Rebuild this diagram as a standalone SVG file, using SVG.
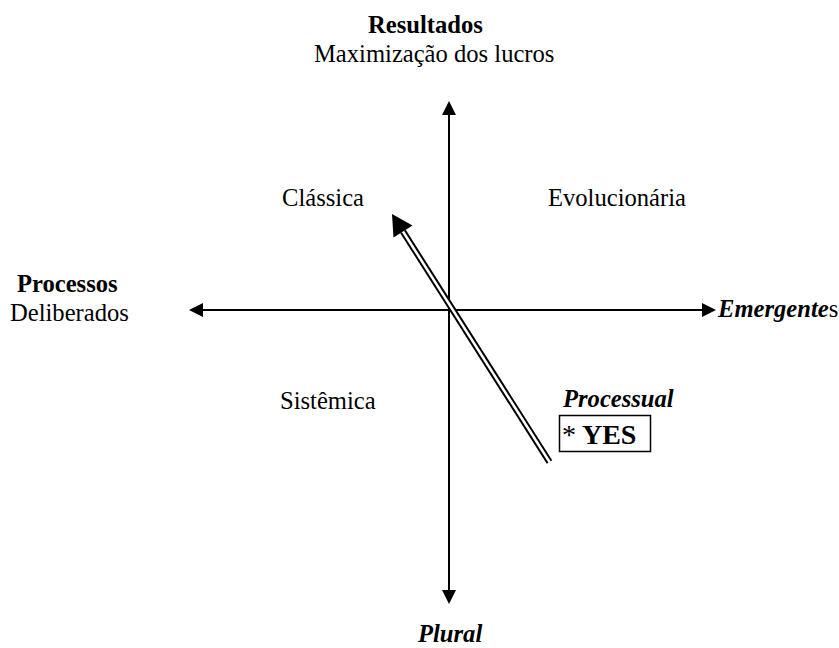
<svg xmlns="http://www.w3.org/2000/svg" width="839" height="648" viewBox="0 0 839 648">
<style>
text{font-family:"Liberation Serif","Times New Roman",serif;font-size:24.6px;fill:#000}
.b{font-weight:bold}
.bi{font-weight:bold;font-style:italic}
.axis{stroke:#000;stroke-width:2;fill:none}
.head{fill:#000}
</style>
<rect width="839" height="648" fill="#fff"/>
<g id="connectors">
<line class="axis" x1="449" y1="114" x2="449" y2="591"/>
<polygon class="head" points="449,101 442,115 456,115"/>
<polygon class="head" points="449,604 442,590 456,590"/>
<line class="axis" x1="202" y1="310" x2="703" y2="310"/>
<polygon class="head" points="189,310 203,303 203,317"/>
<polygon class="head" points="716,310 702,303 702,317"/>
<g id="processual-arrow">
<line x1="549.5" y1="462" x2="403" y2="231.5" stroke="#000" stroke-width="6.5"/>
<line x1="550.5" y1="463.5" x2="402" y2="230" stroke="#fff" stroke-width="2.5"/>
<polygon class="head" points="392,214 412.5,225.5 393.5,237.5"/>
</g>
</g>
<g id="top">
<text class="b" x="368" y="33">Resultados</text>
<text x="314" y="62">Maximização dos lucros</text>
</g>
<g id="left">
<text class="b" x="17" y="292">Processos</text>
<text x="10" y="321">Deliberados</text>
</g>
<g id="right">
<text x="718" y="317"><tspan class="bi">Emergente</tspan>s</text>
</g>
<g id="bottom">
<text class="bi" x="418" y="642">Plural</text>
</g>
<g id="classica"><text x="282" y="206">Clássica</text></g>
<g id="evolucionaria"><text x="548" y="206">Evolucionária</text></g>
<g id="sistemica"><text x="280" y="409">Sistêmica</text></g>
<g id="processual">
<text class="bi" x="563" y="407">Processual</text>
<rect x="559.5" y="415.5" width="91" height="36" fill="none" stroke="#000" stroke-width="1.5"/>
<text x="562" y="444" style="font-size:28px"><tspan>*</tspan><tspan class="b"> YES</tspan></text>
</g>
</svg>
